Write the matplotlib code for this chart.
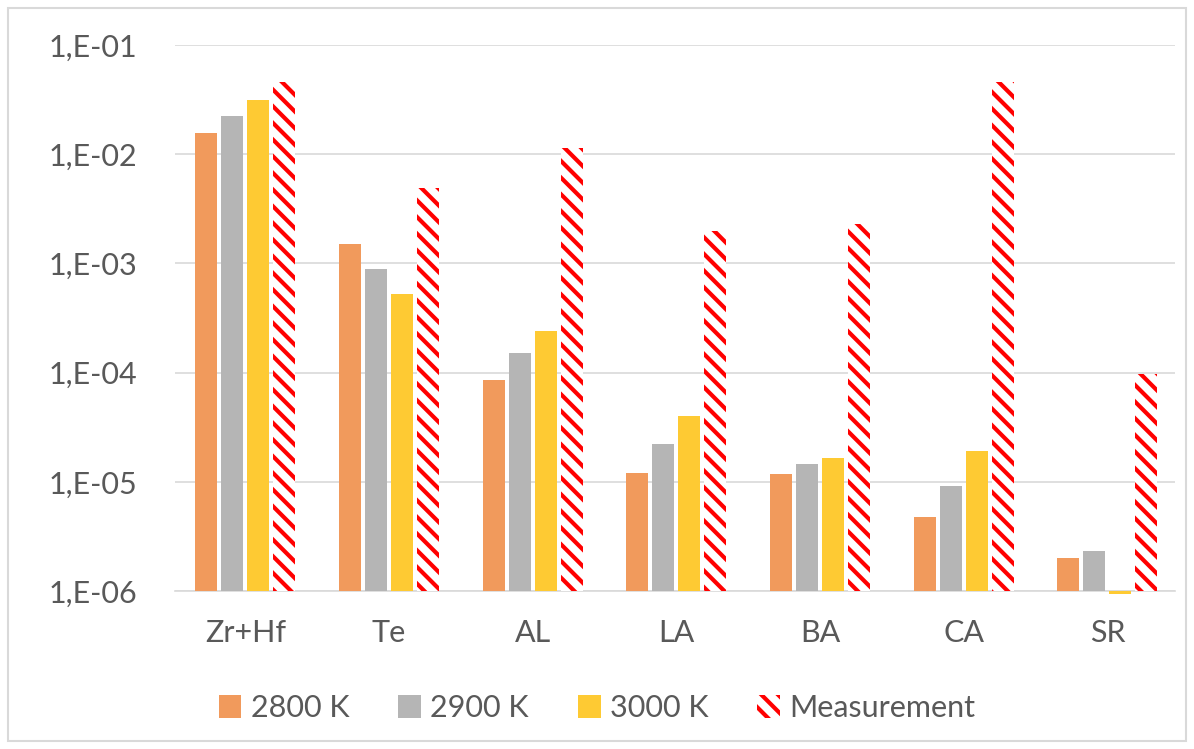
import matplotlib
matplotlib.use("Agg")
import matplotlib.pyplot as plt
import numpy as np
from matplotlib.ticker import FixedLocator, NullLocator

plt.rcParams['font.family'] = ['Lato', 'DejaVu Sans']
plt.rcParams['hatch.linewidth'] = 3.0

cats = ["Zr+Hf", "Te", "AL", "LA", "BA", "CA", "SR"]
k2800 = [1.56e-2, 1.49e-3, 8.6e-5, 1.2e-5, 1.18e-5, 4.8e-6, 2.0e-6]
k2900 = [2.23e-2, 8.8e-4, 1.5e-4, 2.23e-5, 1.46e-5, 9.2e-6, 2.33e-6]
k3000 = [3.13e-2, 5.2e-4, 2.4e-4, 4.0e-5, 1.66e-5, 1.9e-5, 0.94e-6]
meas = [4.57e-2, 4.9e-3, 1.13e-2, 2.0e-3, 2.28e-3, 4.57e-2, 9.8e-5]
names = ["2800 K", "2900 K", "3000 K", "Measurement"]
ticks = [1e-6, 1e-5, 1e-4, 1e-3, 1e-2, 1e-1]
tick_labels = ["1,E-06", "1,E-05", "1,E-04", "1,E-03", "1,E-02", "1,E-01"]

txt = "#595959"
base = 1e-6
fig = plt.figure(figsize=(11.94, 7.49), dpi=100)
ax = fig.add_axes([175/1194, (749-591)/749, 1000/1194, (591-45)/749])

x = np.arange(len(cats))
slot = 0.181
w = 0.153
series = [k2800, k2900, k3000]
colors = ["#F19A5C", "#B5B5B5", "#FECA33"]
handles = []
for i, (vals, c) in enumerate(zip(series, colors)):
    v = np.array(vals)
    h = ax.bar(x + (i - 1.5) * slot, v - base, bottom=base, width=w, color=c,
               clip_on=False, zorder=3, label=names[i])
    handles.append(h)
v = np.array(meas)
h = ax.bar(x + 1.5 * slot, v - base, bottom=base, width=w, facecolor="white",
           edgecolor="#FF0000", linewidth=0, hatch="\\\\", zorder=3, label=names[3])
handles.append(h)

ax.set_yscale("log")
ax.set_ylim(1e-6, 1e-1)
ax.set_xlim(-0.49, 6.47)
ax.yaxis.set_major_locator(FixedLocator(ticks))
ax.yaxis.set_minor_locator(NullLocator())
ax.set_yticks(ticks)
ax.set_yticklabels(tick_labels)
ax.set_xticks(x)
ax.set_xticklabels(cats)
ax.tick_params(axis="both", length=0, labelsize=22, colors=txt)
ax.tick_params(axis="y", pad=27)
ax.tick_params(axis="x", pad=20)
ax.grid(axis="y", color="#D9D9D9", linewidth=1.2, zorder=0)
for s in ["top", "right", "left"]:
    ax.spines[s].set_visible(False)
ax.spines["bottom"].set_color("#D9D9D9")
ax.spines["bottom"].set_linewidth(1.2)

leg = fig.legend(handles=handles, labels=names, loc="center", bbox_to_anchor=(0.5, (749-708)/749),
                 ncol=4, frameon=False, fontsize=22, handlelength=0.75, handleheight=0.75,
                 handletextpad=0.3, columnspacing=1.6)
for t in leg.get_texts():
    t.set_color(txt)

fig.patches.append(plt.Rectangle((8/1194, 8/749), 1178/1194, 733/749, transform=fig.transFigure,
                                 fill=False, edgecolor="#D9D9D9", linewidth=1.5))
fig.savefig("out.png", dpi=100, facecolor="white")
